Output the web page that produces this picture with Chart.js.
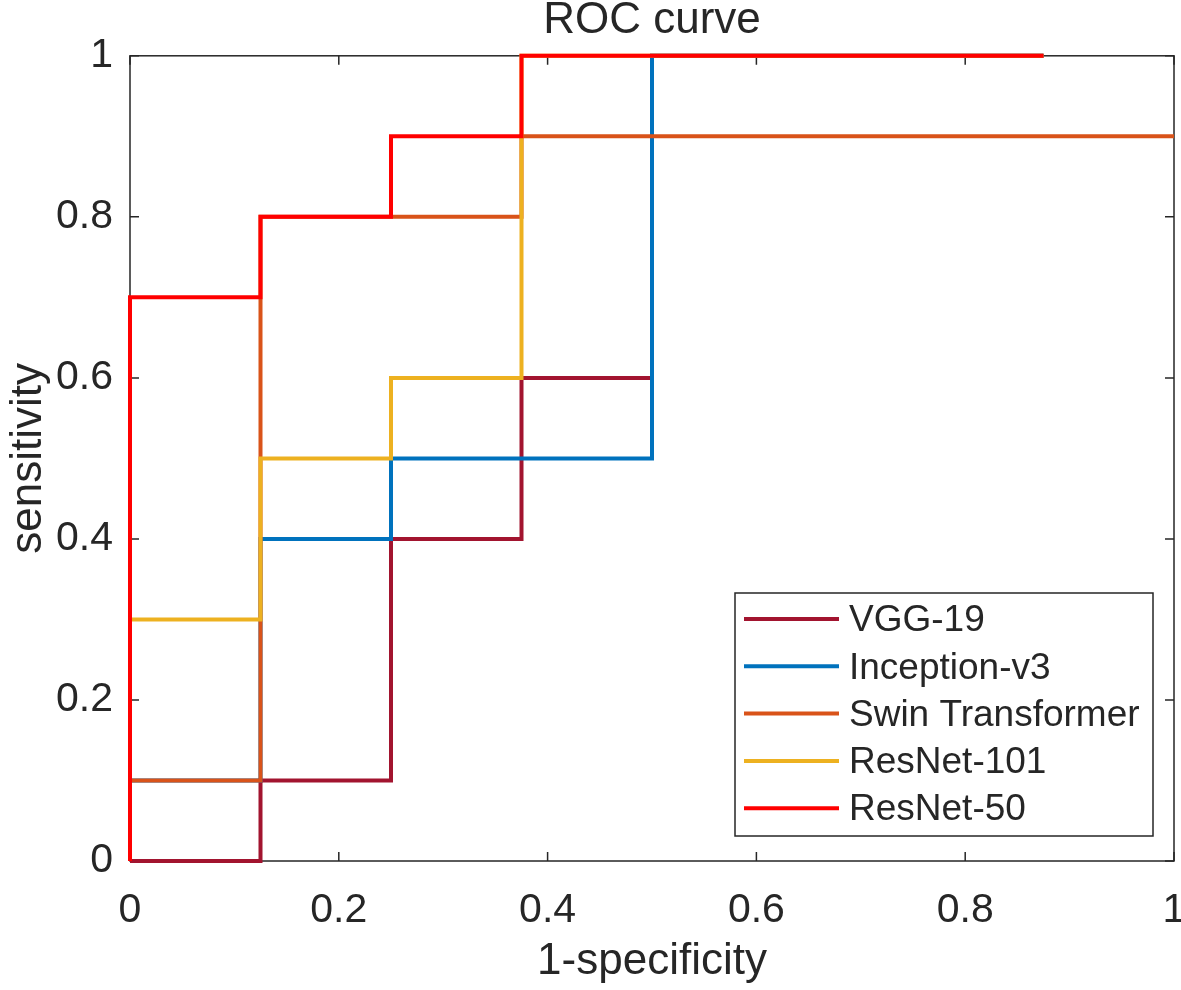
<!DOCTYPE html>
<html>
<head>
<meta charset="utf-8">
<script src="https://cdn.jsdelivr.net/npm/chart.js@4.4.1/dist/chart.umd.min.js"></script>
<style>
  html, body { margin: 0; padding: 0; background: #fff; }
  #wrap { width: 1181px; height: 990px; }
</style>
</head>
<body>
<div id="wrap"><canvas id="roc"></canvas></div>
<script>
// ROC step curves, vertices (x = 1-specificity, y = sensitivity)
const seriesNames = ['VGG-19', 'Inception-v3', 'Swin Transformer', 'ResNet-101', 'ResNet-50'];
const seriesColors = ['#A2142F', '#0072BD', '#D95319', '#EDB120', '#FF0000'];

const vggX = [0, 0.125, 0.125, 0.25, 0.25, 0.375, 0.375, 0.5, 0.5, 0.875];
const vggY = [0, 0, 0.1, 0.1, 0.4, 0.4, 0.6, 0.6, 1, 1];

const inceptionX = [0, 0, 0.125, 0.125, 0.25, 0.25, 0.5, 0.5, 0.875];
const inceptionY = [0, 0.1, 0.1, 0.4, 0.4, 0.5, 0.5, 1, 1];

const swinX = [0, 0, 0.125, 0.125, 0.375, 0.375, 1];
const swinY = [0, 0.1, 0.1, 0.8, 0.8, 0.9, 0.9];

const resnet101X = [0, 0, 0.125, 0.125, 0.25, 0.25, 0.375, 0.375, 0.875];
const resnet101Y = [0, 0.3, 0.3, 0.5, 0.5, 0.6, 0.6, 1, 1];

const resnet50X = [0, 0, 0.125, 0.125, 0.25, 0.25, 0.375, 0.375, 0.875];
const resnet50Y = [0, 0.7, 0.7, 0.8, 0.8, 0.9, 0.9, 1, 1];

const xTicks = [0, 0.2, 0.4, 0.6, 0.8, 1];
const yTicks = [0, 0.2, 0.4, 0.6, 0.8, 1];

const FONT = "'Liberation Sans', Arial, Helvetica, sans-serif";
const INK = '#262626';

function points(xs, ys) {
  return xs.map((x, i) => ({ x, y: ys[i] }));
}

const curves = [
  [vggX, vggY], [inceptionX, inceptionY], [swinX, swinY],
  [resnet101X, resnet101Y], [resnet50X, resnet50Y],
];

// later series drawn on top (higher order is drawn first in Chart.js)
const datasets = curves.map(([xs, ys], i) => ({
  label: seriesNames[i],
  data: points(xs, ys),
  borderColor: seriesColors[i],
  borderWidth: 4,
  pointRadius: 0,
  tension: 0,
  fill: false,
  clip: false,
  borderJoinStyle: 'miter',
  order: curves.length - i,
}));

// box around the axes with inward tick marks, MATLAB style
const axesBox = {
  id: 'axesBox',
  beforeDatasetsDraw(chart) {
    const { ctx, chartArea: a, scales } = chart;
    const tl = 9;
    ctx.save();
    ctx.strokeStyle = INK;
    ctx.lineWidth = 1.5;
    ctx.strokeRect(a.left, a.top, a.right - a.left, a.bottom - a.top);
    ctx.beginPath();
    for (const v of xTicks) {
      const px = scales.x.getPixelForValue(v);
      ctx.moveTo(px, a.bottom); ctx.lineTo(px, a.bottom - tl);
      ctx.moveTo(px, a.top); ctx.lineTo(px, a.top + tl);
    }
    for (const v of yTicks) {
      const py = scales.y.getPixelForValue(v);
      ctx.moveTo(a.left, py); ctx.lineTo(a.left + tl, py);
      ctx.moveTo(a.right, py); ctx.lineTo(a.right - tl, py);
    }
    ctx.stroke();
    ctx.restore();
  },
};

// legend box inside the plot, lower right
const boxLegend = {
  id: 'boxLegend',
  afterDatasetsDraw(chart) {
    const { ctx, chartArea: a } = chart;
    const right = a.right - 21, bottom = a.bottom - 25;
    const w = 418, h = 243;
    const left = right - w, top = bottom - h;
    ctx.save();
    ctx.fillStyle = '#fff';
    ctx.fillRect(left, top, w, h);
    ctx.strokeStyle = INK;
    ctx.lineWidth = 1.5;
    ctx.strokeRect(left, top, w, h);
    ctx.font = `37px ${FONT}`;
    ctx.textBaseline = 'middle';
    ctx.textAlign = 'left';
    chart.data.datasets.forEach((ds, i) => {
      const y = top + 26 + i * 47.3;
      ctx.strokeStyle = ds.borderColor;
      ctx.lineWidth = 4;
      ctx.beginPath();
      ctx.moveTo(left + 9, y);
      ctx.lineTo(left + 104, y);
      ctx.stroke();
      ctx.fillStyle = INK;
      ctx.fillText(ds.label, left + 114, y + 2);
    });
    ctx.restore();
  },
};

const tickFmt = v => String(Math.round(v * 10) / 10);

new Chart(document.getElementById('roc'), {
  type: 'line',
  data: { datasets },
  options: {
    responsive: true,
    maintainAspectRatio: false,
    animation: false,
    layout: { padding: { left: 0, right: 7, top: 0, bottom: 0 } },
    plugins: {
      legend: { display: false },
      tooltip: { enabled: false },
      title: {
        display: true,
        fullSize: false,
        text: 'ROC curve',
        color: INK,
        font: { family: FONT, size: 44, weight: 'normal', lineHeight: 0.95 },
        padding: { top: 0, bottom: 14 },
      },
    },
    scales: {
      x: {
        type: 'linear',
        min: 0, max: 1,
        grid: { display: false, drawTicks: false },
        border: { display: false },
        ticks: {
          stepSize: 0.2,
          padding: 25,
          color: INK,
          maxRotation: 0,
          font: { family: FONT, size: 41 },
          callback: tickFmt,
        },
        title: {
          display: true,
          text: '1-specificity',
          color: INK,
          font: { family: FONT, size: 44 },
          padding: { top: 0, bottom: 2 },
        },
        afterFit(scale) {
          scale.height = 129;
          scale.paddingLeft = 0;
          scale.paddingRight = 0;
        },
      },
      y: {
        min: 0, max: 1,
        grid: { display: false, drawTicks: false },
        border: { display: false },
        ticks: {
          stepSize: 0.2,
          padding: 17,
          color: INK,
          font: { family: FONT, size: 41 },
          callback: tickFmt,
        },
        title: {
          display: true,
          text: 'sensitivity',
          color: INK,
          font: { family: FONT, size: 44 },
          padding: { top: 2, bottom: 0 },
        },
        afterFit(scale) {
          scale.width = 130;
          scale.paddingTop = 0;
          scale.paddingBottom = 0;
        },
      },
    },
  },
  plugins: [axesBox, boxLegend],
});
</script>
</body>
</html>
